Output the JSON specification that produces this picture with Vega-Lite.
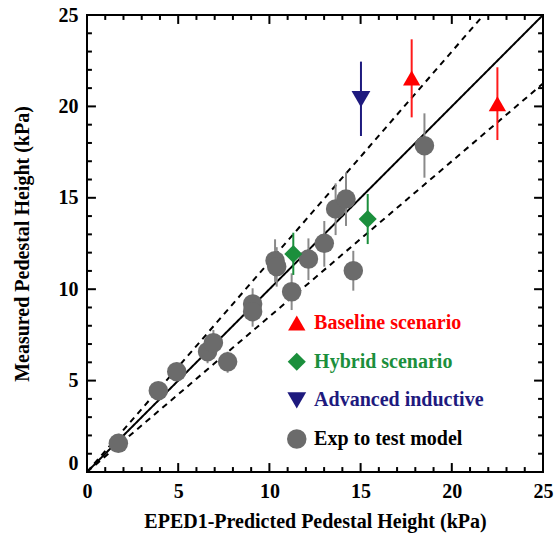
{
  "$schema": "https://vega.github.io/schema/vega-lite/v6.json",
  "width": 456,
  "height": 457,
  "padding": {"left": 12, "top": 5, "right": 2, "bottom": 8},
  "config": {"view": {"stroke": "#000", "strokeWidth": 2}},
  "datasets": {
    "refLines": [
      {"kind": "identity", "style": "solid", "x": 0, "y": 0},
      {"kind": "identity", "style": "solid", "x": 25, "y": 25},
      {"kind": "upper", "style": "dashed", "x": 0, "y": 0},
      {"kind": "upper", "style": "dashed", "x": 21.74, "y": 25},
      {"kind": "lower", "style": "dashed", "x": 0, "y": 0},
      {"kind": "lower", "style": "dashed", "x": 25, "y": 21.25}
    ],
    "vTicks": [
      {"x": 1, "lo": 0, "hi": 0.27}, {"x": 1, "lo": 24.73, "hi": 25},
      {"x": 2, "lo": 0, "hi": 0.27}, {"x": 2, "lo": 24.73, "hi": 25},
      {"x": 3, "lo": 0, "hi": 0.27}, {"x": 3, "lo": 24.73, "hi": 25},
      {"x": 4, "lo": 0, "hi": 0.27}, {"x": 4, "lo": 24.73, "hi": 25},
      {"x": 5, "lo": 0, "hi": 0.49}, {"x": 5, "lo": 24.51, "hi": 25},
      {"x": 6, "lo": 0, "hi": 0.27}, {"x": 6, "lo": 24.73, "hi": 25},
      {"x": 7, "lo": 0, "hi": 0.27}, {"x": 7, "lo": 24.73, "hi": 25},
      {"x": 8, "lo": 0, "hi": 0.27}, {"x": 8, "lo": 24.73, "hi": 25},
      {"x": 9, "lo": 0, "hi": 0.27}, {"x": 9, "lo": 24.73, "hi": 25},
      {"x": 10, "lo": 0, "hi": 0.49}, {"x": 10, "lo": 24.51, "hi": 25},
      {"x": 11, "lo": 0, "hi": 0.27}, {"x": 11, "lo": 24.73, "hi": 25},
      {"x": 12, "lo": 0, "hi": 0.27}, {"x": 12, "lo": 24.73, "hi": 25},
      {"x": 13, "lo": 0, "hi": 0.27}, {"x": 13, "lo": 24.73, "hi": 25},
      {"x": 14, "lo": 0, "hi": 0.27}, {"x": 14, "lo": 24.73, "hi": 25},
      {"x": 15, "lo": 0, "hi": 0.49}, {"x": 15, "lo": 24.51, "hi": 25},
      {"x": 16, "lo": 0, "hi": 0.27}, {"x": 16, "lo": 24.73, "hi": 25},
      {"x": 17, "lo": 0, "hi": 0.27}, {"x": 17, "lo": 24.73, "hi": 25},
      {"x": 18, "lo": 0, "hi": 0.27}, {"x": 18, "lo": 24.73, "hi": 25},
      {"x": 19, "lo": 0, "hi": 0.27}, {"x": 19, "lo": 24.73, "hi": 25},
      {"x": 20, "lo": 0, "hi": 0.49}, {"x": 20, "lo": 24.51, "hi": 25},
      {"x": 21, "lo": 0, "hi": 0.27}, {"x": 21, "lo": 24.73, "hi": 25},
      {"x": 22, "lo": 0, "hi": 0.27}, {"x": 22, "lo": 24.73, "hi": 25},
      {"x": 23, "lo": 0, "hi": 0.27}, {"x": 23, "lo": 24.73, "hi": 25},
      {"x": 24, "lo": 0, "hi": 0.27}, {"x": 24, "lo": 24.73, "hi": 25}
    ],
    "hTicks": [
      {"y": 1, "lo": 0, "hi": 0.27}, {"y": 1, "lo": 24.73, "hi": 25},
      {"y": 2, "lo": 0, "hi": 0.27}, {"y": 2, "lo": 24.73, "hi": 25},
      {"y": 3, "lo": 0, "hi": 0.27}, {"y": 3, "lo": 24.73, "hi": 25},
      {"y": 4, "lo": 0, "hi": 0.27}, {"y": 4, "lo": 24.73, "hi": 25},
      {"y": 5, "lo": 0, "hi": 0.49}, {"y": 5, "lo": 24.51, "hi": 25},
      {"y": 6, "lo": 0, "hi": 0.27}, {"y": 6, "lo": 24.73, "hi": 25},
      {"y": 7, "lo": 0, "hi": 0.27}, {"y": 7, "lo": 24.73, "hi": 25},
      {"y": 8, "lo": 0, "hi": 0.27}, {"y": 8, "lo": 24.73, "hi": 25},
      {"y": 9, "lo": 0, "hi": 0.27}, {"y": 9, "lo": 24.73, "hi": 25},
      {"y": 10, "lo": 0, "hi": 0.49}, {"y": 10, "lo": 24.51, "hi": 25},
      {"y": 11, "lo": 0, "hi": 0.27}, {"y": 11, "lo": 24.73, "hi": 25},
      {"y": 12, "lo": 0, "hi": 0.27}, {"y": 12, "lo": 24.73, "hi": 25},
      {"y": 13, "lo": 0, "hi": 0.27}, {"y": 13, "lo": 24.73, "hi": 25},
      {"y": 14, "lo": 0, "hi": 0.27}, {"y": 14, "lo": 24.73, "hi": 25},
      {"y": 15, "lo": 0, "hi": 0.49}, {"y": 15, "lo": 24.51, "hi": 25},
      {"y": 16, "lo": 0, "hi": 0.27}, {"y": 16, "lo": 24.73, "hi": 25},
      {"y": 17, "lo": 0, "hi": 0.27}, {"y": 17, "lo": 24.73, "hi": 25},
      {"y": 18, "lo": 0, "hi": 0.27}, {"y": 18, "lo": 24.73, "hi": 25},
      {"y": 19, "lo": 0, "hi": 0.27}, {"y": 19, "lo": 24.73, "hi": 25},
      {"y": 20, "lo": 0, "hi": 0.49}, {"y": 20, "lo": 24.51, "hi": 25},
      {"y": 21, "lo": 0, "hi": 0.27}, {"y": 21, "lo": 24.73, "hi": 25},
      {"y": 22, "lo": 0, "hi": 0.27}, {"y": 22, "lo": 24.73, "hi": 25},
      {"y": 23, "lo": 0, "hi": 0.27}, {"y": 23, "lo": 24.73, "hi": 25},
      {"y": 24, "lo": 0, "hi": 0.27}, {"y": 24, "lo": 24.73, "hi": 25}
    ],
    "legendEntries": [
      {"series": "Baseline scenario"},
      {"series": "Hybrid scenario"},
      {"series": "Advanced inductive"},
      {"series": "Exp to test model"}
    ],
    "obs": [
      {"series": "Exp to test model", "x": 1.72, "y": 1.57, "lo": 1.3, "hi": 1.9},
      {"series": "Exp to test model", "x": 3.91, "y": 4.45, "lo": 4.25, "hi": 4.65},
      {"series": "Exp to test model", "x": 4.92, "y": 5.49, "lo": 5.1, "hi": 5.98},
      {"series": "Exp to test model", "x": 6.61, "y": 6.58, "lo": 5.95, "hi": 7.2},
      {"series": "Exp to test model", "x": 6.93, "y": 7.07, "lo": 6.4, "hi": 7.77},
      {"series": "Exp to test model", "x": 7.71, "y": 6.03, "lo": 5.43, "hi": 6.58},
      {"series": "Exp to test model", "x": 9.08, "y": 9.19, "lo": 8.3, "hi": 10.05},
      {"series": "Exp to test model", "x": 9.08, "y": 8.77, "lo": 7.95, "hi": 9.6},
      {"series": "Exp to test model", "x": 10.31, "y": 11.56, "lo": 10.4, "hi": 12.73},
      {"series": "Exp to test model", "x": 10.4, "y": 11.23, "lo": 10.14, "hi": 12.3},
      {"series": "Exp to test model", "x": 11.22, "y": 9.86, "lo": 8.86, "hi": 10.87},
      {"series": "Exp to test model", "x": 12.14, "y": 11.65, "lo": 10.5, "hi": 12.78},
      {"series": "Exp to test model", "x": 13.01, "y": 12.51, "lo": 11.23, "hi": 13.73},
      {"series": "Exp to test model", "x": 13.63, "y": 14.39, "lo": 12.96, "hi": 15.79},
      {"series": "Exp to test model", "x": 14.2, "y": 14.93, "lo": 13.46, "hi": 16.39},
      {"series": "Exp to test model", "x": 14.6, "y": 11.01, "lo": 9.92, "hi": 12.1},
      {"series": "Exp to test model", "x": 18.5, "y": 17.85, "lo": 16.1, "hi": 19.62},
      {"series": "Hybrid scenario", "x": 11.31, "y": 11.93, "lo": 10.78, "hi": 13.09},
      {"series": "Hybrid scenario", "x": 15.39, "y": 13.84, "lo": 12.47, "hi": 15.21},
      {"series": "Baseline scenario", "x": 17.8, "y": 21.55, "lo": 19.4, "hi": 23.67},
      {"series": "Baseline scenario", "x": 22.5, "y": 20.15, "lo": 18.16, "hi": 22.14},
      {"series": "Advanced inductive", "x": 15.02, "y": 20.4, "lo": 18.38, "hi": 22.45}
    ]
  },
  "layer": [
    {
      "data": {"name": "refLines"},
      "mark": {"type": "line", "color": "#000", "strokeWidth": 2, "clip": true},
      "encoding": {
        "x": {
          "field": "x", "type": "quantitative",
          "scale": {"domain": [0, 25], "nice": false, "zero": false},
          "axis": {
            "orient": "bottom", "values": [0, 5, 10, 15, 20, 25],
            "ticks": false, "domain": false, "grid": false,
            "labelFont": "Liberation Serif", "labelFontWeight": "bold", "labelFontSize": 20,
            "labelColor": "#000", "labelPadding": 9, "labelFlush": false, "labelOverlap": false,
            "title": "EPED1-Predicted Pedestal Height (kPa)",
            "titleFont": "Liberation Serif", "titleFontWeight": "bold", "titleFontSize": 20,
            "titleColor": "#000", "titlePadding": 10
          }
        },
        "y": {
          "field": "y", "type": "quantitative",
          "scale": {"domain": [0, 25], "nice": false, "zero": false},
          "axis": {
            "orient": "left", "values": [0, 5, 10, 15, 20, 25],
            "ticks": false, "domain": false, "grid": false,
            "labelOffset": {"condition": {"test": "datum.value === 0", "value": -9}, "value": 0},
            "labelFont": "Liberation Serif", "labelFontWeight": "bold", "labelFontSize": 20,
            "labelColor": "#000", "labelPadding": 9, "labelFlush": false, "labelOverlap": false,
            "title": "Measured Pedestal Height (kPa)",
            "titleFont": "Liberation Serif", "titleFontWeight": "bold", "titleFontSize": 20,
            "titleColor": "#000", "titlePadding": 26
          }
        },
        "detail": {"field": "kind", "type": "nominal"},
        "strokeDash": {
          "field": "style", "type": "nominal",
          "scale": {"domain": ["solid", "dashed"], "range": [[1, 0], [6, 5]]},
          "legend": null
        }
      }
    },
    {
      "data": {"name": "obs"},
      "mark": {"type": "rule", "strokeWidth": 2},
      "encoding": {
        "x": {"field": "x", "type": "quantitative", "scale": {"domain": [0, 25], "nice": false, "zero": false}, "axis": null},
        "y": {"field": "lo", "type": "quantitative", "scale": {"domain": [0, 25], "nice": false, "zero": false}, "axis": null},
        "y2": {"field": "hi"},
        "stroke": {
          "field": "series", "type": "nominal",
          "scale": {
            "domain": ["Baseline scenario", "Hybrid scenario", "Advanced inductive", "Exp to test model"],
            "range": ["#ff1a1a", "#1b8f3c", "#1e1a7e", "#8a8a8a"]
          },
          "legend": null
        }
      }
    },
    {
      "data": {"name": "obs"},
      "mark": {"type": "point", "filled": true, "opacity": 1},
      "encoding": {
        "x": {"field": "x", "type": "quantitative", "scale": {"domain": [0, 25], "nice": false, "zero": false}, "axis": null},
        "y": {"field": "y", "type": "quantitative", "scale": {"domain": [0, 25], "nice": false, "zero": false}, "axis": null},
        "color": {
          "field": "series", "type": "nominal",
          "scale": {
            "domain": ["Baseline scenario", "Hybrid scenario", "Advanced inductive", "Exp to test model"],
            "range": ["#ff0000", "#1b8f3c", "#1e1a7e", "#6b6b6b"]
          },
          "legend": null
        },
        "shape": {
          "field": "series", "type": "nominal",
          "scale": {
            "domain": ["Baseline scenario", "Hybrid scenario", "Advanced inductive", "Exp to test model"],
            "range": ["triangle-up", "diamond", "triangle-down", "circle"]
          },
          "legend": null
        },
        "size": {
          "field": "series", "type": "nominal",
          "scale": {
            "domain": ["Baseline scenario", "Hybrid scenario", "Advanced inductive", "Exp to test model"],
            "range": [300, 380, 300, 216]
          },
          "legend": null
        }
      }
    },
    {
      "data": {"name": "vTicks"},
      "mark": {"type": "rule", "color": "#000", "strokeWidth": 2},
      "encoding": {
        "x": {"field": "x", "type": "quantitative", "scale": {"domain": [0, 25], "nice": false, "zero": false}, "axis": null},
        "y": {"field": "lo", "type": "quantitative", "scale": {"domain": [0, 25], "nice": false, "zero": false}, "axis": null},
        "y2": {"field": "hi"}
      }
    },
    {
      "data": {"name": "hTicks"},
      "mark": {"type": "rule", "color": "#000", "strokeWidth": 2},
      "encoding": {
        "y": {"field": "y", "type": "quantitative", "scale": {"domain": [0, 25], "nice": false, "zero": false}, "axis": null},
        "x": {"field": "lo", "type": "quantitative", "scale": {"domain": [0, 25], "nice": false, "zero": false}, "axis": null},
        "x2": {"field": "hi"}
      }
    },
    {
      "data": {"name": "legendEntries"},
      "mark": {"type": "point", "filled": true, "opacity": 1},
      "encoding": {
        "x": {"datum": 11.5, "type": "quantitative", "scale": {"domain": [0, 25], "nice": false, "zero": false}, "axis": null},
        "y": {
          "field": "series", "type": "nominal",
          "scale": {"type": "point", "domain": ["Baseline scenario", "Hybrid scenario", "Advanced inductive", "Exp to test model"], "range": [308, 424], "padding": 0},
          "axis": null
        },
        "color": {
          "field": "series", "type": "nominal",
          "scale": {
            "domain": ["Baseline scenario", "Hybrid scenario", "Advanced inductive", "Exp to test model"],
            "range": ["#ff0000", "#1b8f3c", "#1e1a7e", "#6b6b6b"]
          },
          "legend": null
        },
        "shape": {
          "field": "series", "type": "nominal",
          "scale": {
            "domain": ["Baseline scenario", "Hybrid scenario", "Advanced inductive", "Exp to test model"],
            "range": ["triangle-up", "diamond", "triangle-down", "circle"]
          },
          "legend": null
        },
        "size": {
          "field": "series", "type": "nominal",
          "scale": {
            "domain": ["Baseline scenario", "Hybrid scenario", "Advanced inductive", "Exp to test model"],
            "range": [300, 380, 300, 216]
          },
          "legend": null
        }
      }
    },
    {
      "data": {"name": "legendEntries"},
      "mark": {"type": "text", "align": "left", "baseline": "middle", "font": "Liberation Serif", "fontWeight": "bold", "fontSize": 20},
      "encoding": {
        "x": {"datum": 12.45, "type": "quantitative", "scale": {"domain": [0, 25], "nice": false, "zero": false}, "axis": null},
        "y": {
          "field": "series", "type": "nominal",
          "scale": {"type": "point", "domain": ["Baseline scenario", "Hybrid scenario", "Advanced inductive", "Exp to test model"], "range": [308, 424], "padding": 0},
          "axis": null
        },
        "text": {"field": "series", "type": "nominal"},
        "fill": {
          "field": "series", "type": "nominal",
          "scale": {
            "domain": ["Baseline scenario", "Hybrid scenario", "Advanced inductive", "Exp to test model"],
            "range": ["#ff0000", "#1b8f3c", "#1e1a7e", "#000000"]
          },
          "legend": null
        }
      }
    }
  ],
  "resolve": {"scale": {"y": "independent"}, "axis": {"x": "independent", "y": "independent"}}
}
